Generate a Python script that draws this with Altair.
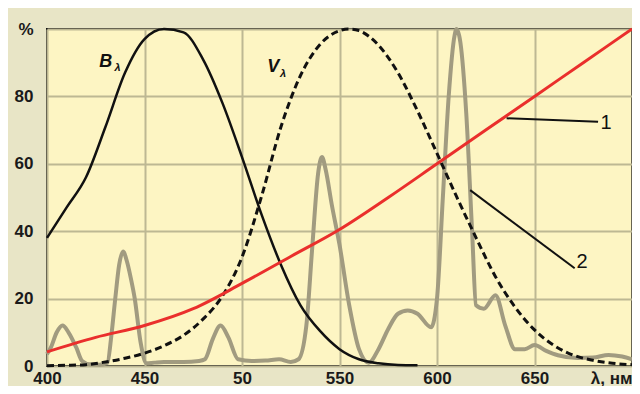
import altair as alt
import pandas as pd

# ---- data ----
lam_red = [400, 425, 450, 475, 500, 525, 550, 575, 600, 625, 650, 675, 700]
red_vals = [4.2, 8.5, 12, 17, 24.5, 32.5, 40.5, 50, 60, 70, 80, 90, 100]

lam_b = [400, 410, 420, 430, 440, 450, 460, 470, 480, 490, 500, 510, 520, 530,
         540, 550, 560, 570, 580, 590]
b_vals = [38, 47, 56, 71, 87, 97, 100, 99, 91, 78, 62, 45, 30, 18, 10.4, 5, 2,
          0.8, 0.3, 0.2]

lam_v = [400, 410, 420, 430, 440, 450, 460, 470, 480, 490, 500, 510, 520, 530,
         540, 550, 555, 560, 570, 580, 590, 600, 610, 620, 630, 640, 650, 660,
         670, 680, 690, 700]
v_vals = [0.1, 0.2, 0.4, 1.2, 2.3, 3.8, 6, 9.1, 13.9, 20.8, 32.3, 50.3, 71,
          86.2, 95.4, 99.5, 100, 99.5, 95.2, 87, 75.7, 63.1, 50.3, 38.1, 26.5,
          17.5, 10.7, 6.1, 3.2, 1.7, 0.8, 0.4]

lam_g = [400, 402, 405, 408, 411, 415, 418, 422, 427, 431, 433, 435, 437, 439,
         441, 443, 445, 448, 451, 455, 460, 470, 478, 481, 485, 489, 493, 498,
         505, 512, 519, 525, 529, 533, 536, 539, 541, 543, 546, 550, 555, 560,
         565, 570, 575, 580, 585, 590, 597, 600, 603, 606, 609, 610, 612, 615,
         618, 620, 624, 630, 635, 640, 645, 650, 656, 662, 672, 680, 688, 695,
         700]
g_vals = [3.5, 5.5, 10, 12, 10, 5.5, 1.5, 0.5, 0.4, 1, 9, 20, 30, 34,
          31, 26, 20, 7, 0.8, 1, 1.2, 1.2, 1.5, 2, 8, 12, 8.5, 2,
          1.5, 1.6, 2, 1.2, 2, 12, 35, 57, 62, 58, 48, 36, 18, 5,
          1, 5, 11, 15.5, 16.5, 15.5, 11.5, 20, 50, 80, 98, 100, 96, 75,
          40, 18, 17, 21, 12, 5, 5, 6.2, 4.5, 3.2, 2.4, 2.5, 3.3, 2.8,
          2]

x_ticks = [400, 450, 500, 550, 600, 650, 700]
y_ticks = [0, 20, 40, 60, 80, 100]

# annotations
label_text = ["B", "λ", "V", "λ", "1", "2"]
label_lam = [430.1, 436.2, 516.0, 521.0, 686.7, 674.4]
label_val = [90.2, 88.5, 88.7, 86.6, 72.1, 30.9]
label_size = [18, 11, 18, 11, 20, 20]
label_style = ["italic", "italic", "italic", "italic", "normal", "normal"]
label_weight = ["bold", "bold", "bold", "bold", "normal", "normal"]

lead_lam1 = [635.7, 617.0]
lead_val1 = [73.5, 52.2]
lead_lam2 = [682.6, 670.6]
lead_val2 = [72.5, 29.0]

# ---- chart ----
FONT = "Liberation Sans"
xs = alt.Scale(domain=[400, 700], nice=False, zero=False)
ys = alt.Scale(domain=[0, 100], nice=False)

xax = alt.Axis(values=x_ticks, grid=True, ticks=False, domain=False,
               labelExpr="datum.value == 500 ? '50' : datum.value == 700 ? 'λ, нм' : datum.label",
               labelAlign=alt.condition("datum.value == 700", alt.value("right"), alt.value("center")),
               labelFont=FONT, labelFontWeight="bold", labelFontSize=17,
               labelColor="#1a1a1a", labelPadding=4, title=None,
               gridColor="#bdb893", gridWidth=2, gridOpacity=1,
               labelFlush=False, labelOverlap=False)
yax = alt.Axis(values=y_ticks, grid=True, ticks=False, domain=False,
               labelExpr="datum.value == 100 ? '%' : datum.label",
               labelFont=FONT, labelFontWeight="bold", labelFontSize=17,
               labelColor="#1a1a1a", labelPadding=14, title=None,
               gridColor="#bdb893", gridWidth=2, gridOpacity=1,
               labelFlush=False, labelOverlap=False)

df_g = pd.DataFrame({"lam": lam_g, "v": g_vals})
df_b = pd.DataFrame({"lam": lam_b, "v": b_vals})
df_v = pd.DataFrame({"lam": lam_v, "v": v_vals})
df_r = pd.DataFrame({"lam": lam_red, "v": red_vals})
df_t = pd.DataFrame({"t": label_text, "lam": label_lam, "v": label_val,
                     "size": label_size})
df_l = pd.DataFrame({"lam": lead_lam1, "v": lead_val1,
                     "lam2": lead_lam2, "v2": lead_val2})

gray = alt.Chart(df_g).mark_line(color="#a19b80", strokeWidth=4,
                                  interpolate="monotone").encode(
    x=alt.X("lam:Q", scale=xs, axis=xax),
    y=alt.Y("v:Q", scale=ys, axis=yax))
blk = alt.Chart(df_b).mark_line(color="#111111", strokeWidth=2.5,
                                 interpolate="monotone").encode(
    x=alt.X("lam:Q", scale=xs), y=alt.Y("v:Q", scale=ys))
vdash = alt.Chart(df_v).mark_line(color="#111111", strokeWidth=3,
                                   strokeDash=[7, 4],
                                   interpolate="monotone").encode(
    x=alt.X("lam:Q", scale=xs), y=alt.Y("v:Q", scale=ys))
red = alt.Chart(df_r).mark_line(color="#ea2f2c", strokeWidth=3,
                                 interpolate="monotone").encode(
    x=alt.X("lam:Q", scale=xs), y=alt.Y("v:Q", scale=ys))
leads = alt.Chart(df_l).mark_rule(color="#111111", strokeWidth=2).encode(
    x=alt.X("lam:Q", scale=xs), y=alt.Y("v:Q", scale=ys),
    x2="lam2:Q", y2="v2:Q")

texts = []
for i in range(len(label_text)):
    sub = df_t.iloc[[i]]
    texts.append(alt.Chart(sub).mark_text(
        font=FONT, fontSize=label_size[i], fontStyle=label_style[i],
        fontWeight=label_weight[i], color="#111111", align="center",
        baseline="middle").encode(
        x=alt.X("lam:Q", scale=xs), y=alt.Y("v:Q", scale=ys), text="t:N"))

chart = alt.layer(gray, blk, vdash, red, leads, *texts).properties(
    width=585, height=337,
    background="#e8e5c6",
    padding={"left": 39, "top": 21, "right": 0, "bottom": 20},
    autosize=alt.AutoSizeParams(type="none"),
).configure_view(fill="#fdf5c3", stroke="#111111", strokeWidth=2)

chart.save("out.html", embed_options={"renderer": "svg", "actions": False})
